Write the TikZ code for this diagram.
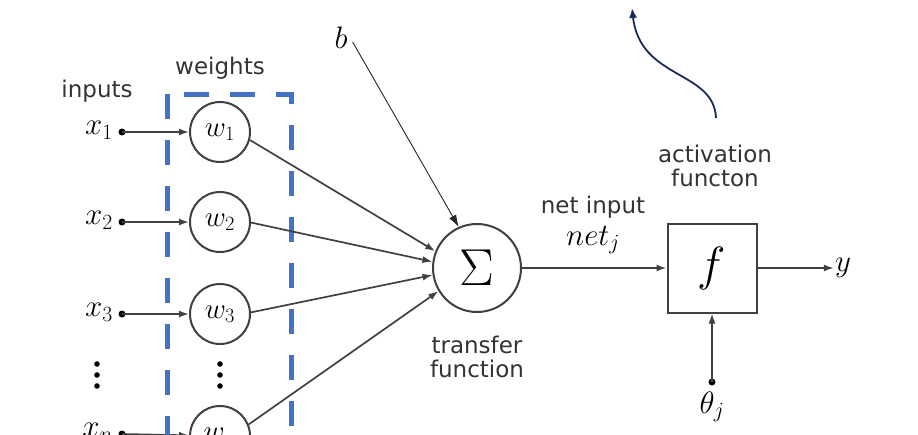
\RequirePackage{fix-cm}
\documentclass[tikz,border=0pt]{standalone}
\usepackage{fontspec}
\setsansfont{DejaVu Sans}
\usetikzlibrary{arrows.meta}
\definecolor{boxblue}{RGB}{68,114,196}
\definecolor{curvenavy}{RGB}{24,44,90}
\definecolor{linegray}{RGB}{64,64,64}
\tikzset{
  wnode/.style={circle,draw=linegray,line width=2pt,minimum size=60pt,inner sep=0pt,
    font=\fontsize{29}{30}\selectfont},
  sumnode/.style={circle,draw=linegray,line width=2pt,minimum size=88pt,inner sep=0pt,
    font=\fontsize{52}{54}\selectfont},
  fnode/.style={rectangle,draw=linegray,line width=2pt,minimum size=89pt,inner sep=0pt,
    font=\fontsize{48}{50}\selectfont},
  mathlabel/.style={inner sep=1pt,font=\fontsize{31}{32}\selectfont},
  textlabel/.style={inner sep=0pt,align=center,text=black!80,
    font=\sffamily\fontsize{23}{24}\selectfont},
  conn/.style={draw=linegray,line width=1.7pt,-{Latex[length=10pt,width=7pt]}},
  thinconn/.style={draw=black!85,line width=0.9pt,-{Latex[length=12pt,width=8pt]}},
}
\begin{document}
\begin{tikzpicture}[x=1pt,y=-1pt]
\useasboundingbox (0,0) rectangle (918,434);
\clip (0,0) rectangle (918,434);
% inputs and weights
\foreach \i/\y in {1/132,2/222,3/314}{
  \node[wnode] (w\i) at (220,\y) {$w_\i$};
  \coordinate (x\i) at (122,\y);
  \fill[black] (x\i) circle (3.5);
  \node[mathlabel,anchor=east] (lx\i) at (114,\y-2) {$x_\i$};
  \draw[conn] (x\i) -- (w\i);
}
\node[wnode] (wn) at (220,436) {$w_n$};
\coordinate (xn) at (122,434);
\fill[black] (xn) circle (3.5);
\node[mathlabel,anchor=east] (lxn) at (114,432) {$x_n$};
\draw[conn] (xn) -- (wn);
\foreach \y in {364,375,386}{
  \fill (97,\y) circle (2.8);
  \fill (220,\y) circle (2.8);
}
% weights box
\draw[boxblue,line width=5pt,dash pattern=on 25pt off 21pt] (167,94) rectangle (291,520);
% transfer function
\node[sumnode] (sig) at (477,268) {$\Sigma$};
\draw[conn] (w1.-15) -- (sig.158);
\draw[conn] (w2.-1) -- (sig.172);
\draw[conn] (w3.3) -- (sig.189);
\draw[conn] (wn.22) -- (sig.211);
\node[mathlabel] (b) at (341,38) {$b$};
\draw[thinconn] (b.east) ++(4,4) -- (sig.114);
% activation function
\node[fnode] (f) at (712,268) {$f$};
\draw[conn] (sig) -- (f);
\node[mathlabel] (out) at (843,268) {$y$};
\draw[conn] (f) -- (out);
\coordinate (th) at (712,382);
\fill[black] (th) circle (3.5);
\draw[conn] (th) -- (f);
\node[mathlabel] (thl) at (712,407) {$\theta_j$};
% labels
\node[textlabel] (inputs) at (97,91) {inputs};
\node[textlabel] (weights) at (220,68) {weights};
\node[textlabel] (transfer) at (477,357) {transfer\\function};
\node[textlabel] (netin) at (593,207) {net input};
\node[mathlabel] (netj) at (593,240) {$net_j$};
\node[textlabel] (act) at (715,166) {activation\\functon};
% curved arrow
\coordinate (cstart) at (716,118);
\coordinate (ctip) at (632,8);
\draw[curvenavy,line width=1.8pt,-{Latex[length=10pt,width=8pt]}]
  (cstart) .. controls (714,70) and (640,80) .. (ctip);
\end{tikzpicture}
\end{document}
